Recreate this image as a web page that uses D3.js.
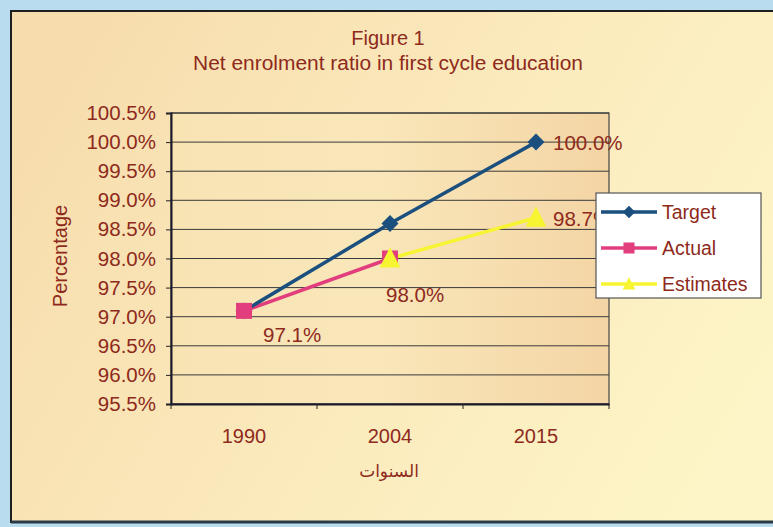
<!DOCTYPE html>
<html>
<head>
<meta charset="utf-8">
<script src="https://cdn.jsdelivr.net/npm/d3@7"></script>
<style>
  html, body { margin: 0; padding: 0; background: #b9dcef; }
  svg { display: block; font-family: Arial, "Liberation Sans", sans-serif; }
</style>
</head>
<body>
<svg id="chart" width="773" height="527"></svg>
<script>
// chart data
const years = ["1990", "2004", "2015"];
const target = [97.1, 98.6, 100.0];
const actual = [97.1, 98.0, null];
const estimates = [null, 98.0, 98.7];
const yTicks = [95.5, 96.0, 96.5, 97.0, 97.5, 98.0, 98.5, 99.0, 99.5, 100.0, 100.5];
const seriesNames = ["Target", "Actual", "Estimates"];

const TXT = "#8e2a1c";
const FONT = "Arial, 'Liberation Sans', sans-serif";
const COLORS = { Target: "#1b4f7e", Actual: "#e23d7c", Estimates: "#f7f531" };

const svg = d3.select("#chart");
const W = 773, H = 527;
const m = { left: 171, right: 609, top: 113, bottom: 404 };

const defs = svg.append("defs");
const bgGrad = defs.append("linearGradient").attr("id", "bg").attr("x1", 0).attr("x2", 1).attr("y1", 0.3).attr("y2", 0.7);
bgGrad.append("stop").attr("offset", 0).attr("stop-color", "#f7ddae");
bgGrad.append("stop").attr("offset", 0.55).attr("stop-color", "#fbebbd");
bgGrad.append("stop").attr("offset", 1).attr("stop-color", "#fdf5c7");
const plotGrad = defs.append("linearGradient").attr("id", "plotbg").attr("x1", 0).attr("x2", 1).attr("y1", 0).attr("y2", 0);
plotGrad.append("stop").attr("offset", 0).attr("stop-color", "#f8e3b3");
plotGrad.append("stop").attr("offset", 0.45).attr("stop-color", "#f9e7ba");
plotGrad.append("stop").attr("offset", 1).attr("stop-color", "#f4d5a5");

// outer frame
svg.append("rect").attr("x", 0).attr("y", 0).attr("width", W).attr("height", H).attr("fill", "#b9dcef");
svg.append("rect").attr("x", 11).attr("y", 11).attr("width", W - 8).attr("height", H - 16)
  .attr("fill", "url(#bg)").attr("stroke", "#1e1e1e").attr("stroke-width", 2);
svg.append("line").attr("x1", 11).attr("x2", W).attr("y1", 522).attr("y2", 522)
  .attr("stroke", "#2a3a48").attr("stroke-width", 3);

// titles
svg.append("text").attr("x", 388).attr("y", 45).attr("text-anchor", "middle")
  .attr("fill", TXT).attr("font-size", 20).text("Figure 1");
svg.append("text").attr("x", 388).attr("y", 70).attr("text-anchor", "middle")
  .attr("fill", TXT).attr("font-size", 20).attr("textLength", 390).attr("lengthAdjust", "spacingAndGlyphs")
  .text("Net enrolment ratio in first cycle education");

const x = d3.scaleBand().domain(years).range([m.left, m.right]);
const y = d3.scaleLinear().domain([95.5, 100.5]).range([m.bottom, m.top]);

// plot area
svg.append("rect").attr("x", m.left).attr("y", m.top)
  .attr("width", m.right - m.left).attr("height", m.bottom - m.top)
  .attr("fill", "url(#plotbg)").attr("stroke", "#444").attr("stroke-width", 1.2);

// gridlines
svg.append("g").selectAll("line").data(yTicks).join("line")
  .attr("x1", m.left).attr("x2", m.right)
  .attr("y1", d => y(d)).attr("y2", d => y(d))
  .attr("stroke", "#3a3a3a").attr("stroke-width", 1);

// axes
const yAxis = svg.append("g").attr("transform", `translate(${m.left},0)`)
  .call(d3.axisLeft(y).tickValues(yTicks).tickSize(5).tickPadding(10).tickFormat(d => d.toFixed(1) + "%"));
const xAxis = svg.append("g").attr("transform", `translate(0,${m.bottom})`)
  .call(d3.axisBottom(x).tickSize(0).tickPadding(25));
xAxis.selectAll(".tick").append("line")
  .attr("x1", -x.bandwidth() / 2).attr("x2", -x.bandwidth() / 2)
  .attr("y1", 0).attr("y2", 5).attr("stroke", "#222");
xAxis.append("line").attr("x1", m.right).attr("x2", m.right).attr("y1", 0).attr("y2", 5).attr("stroke", "#222");
[yAxis, xAxis].forEach(g => {
  g.select(".domain").attr("stroke", "#1a1a2a").attr("stroke-width", 2);
  g.selectAll(".tick line").attr("stroke", "#222");
  g.selectAll("text").attr("fill", TXT).attr("font-family", FONT);
});
yAxis.selectAll("text").attr("font-size", 20.5);
xAxis.selectAll("text").attr("font-size", 20);

// axis titles
svg.append("text").attr("transform", "translate(67,256) rotate(-90)").attr("text-anchor", "middle")
  .attr("fill", TXT).attr("font-size", 20).text("Percentage");
svg.append("text").attr("x", 389).attr("y", 477).attr("text-anchor", "middle")
  .attr("fill", TXT).attr("font-size", 17).attr("font-family", "'DejaVu Sans', 'Noto Sans', sans-serif")
  .text("السنوات");

// series
const series = [
  { name: "Target", values: target },
  { name: "Actual", values: actual },
  { name: "Estimates", values: estimates }
];
const cx = d => x(d) + x.bandwidth() / 2;
const line = d3.line().defined(d => d.v != null).x(d => cx(d.year)).y(d => y(d.v));

function marker(g, name, s) {
  const col = COLORS[name];
  if (name === "Target") {
    g.append("rect").attr("x", -s * 0.4).attr("y", -s * 0.4).attr("width", s * 0.8).attr("height", s * 0.8)
      .attr("transform", "rotate(45)").attr("fill", col);
  } else if (name === "Actual") {
    g.append("rect").attr("x", -s / 2).attr("y", -s / 2).attr("width", s).attr("height", s).attr("fill", col);
  } else {
    g.append("path").attr("d", `M0,${-s * 0.62}L${s * 0.58},${s * 0.5}L${-s * 0.58},${s * 0.5}Z`).attr("fill", col);
  }
}

const plotG = svg.append("g");
series.slice().reverse().forEach(s => {
  const pts = years.map((yr, i) => ({ year: yr, v: s.values[i] }));
  plotG.append("path").datum(pts).attr("d", line)
    .attr("fill", "none").attr("stroke", COLORS[s.name]).attr("stroke-width", 3.5);
});
const markerSize = { Target: 15, Actual: 16, Estimates: 18 };
series.forEach(s => {
  years.forEach((yr, i) => {
    const v = s.values[i];
    if (v == null) return;
    const g = plotG.append("g").attr("transform", `translate(${cx(yr)},${y(v)})`);
    marker(g, s.name, markerSize[s.name]);
  });
});

// data labels
const labels = [
  { year: "1990", v: actual[0], dx: 19, dy: 31 },
  { year: "2004", v: actual[1], dx: -4, dy: 43 },
  { year: "2015", v: target[2], dx: 17, dy: 8 },
  { year: "2015", v: estimates[2], dx: 17, dy: 8 }
];
labels.forEach(l => {
  svg.append("text").attr("x", cx(l.year) + l.dx).attr("y", y(l.v) + l.dy)
    .attr("fill", TXT).attr("font-size", 20.5)
    .text(l.v.toFixed(1) + "%");
});

// legend
const lg = svg.append("g").attr("transform", "translate(596,193)");
lg.append("rect").attr("width", 165).attr("height", 105).attr("fill", "#ffffff").attr("stroke", "#555").attr("stroke-width", 1.2);
seriesNames.forEach((n, i) => {
  const ly = 19 + i * 36;
  lg.append("line").attr("x1", 5).attr("x2", 61).attr("y1", ly).attr("y2", ly)
    .attr("stroke", COLORS[n]).attr("stroke-width", 3.5);
  const mg = lg.append("g").attr("transform", `translate(33,${ly})`);
  marker(mg, n, 11);
  lg.append("text").attr("x", 66).attr("y", ly + 7).attr("fill", TXT).attr("font-size", 19.5).text(n);
});
</script>
</body>
</html>
